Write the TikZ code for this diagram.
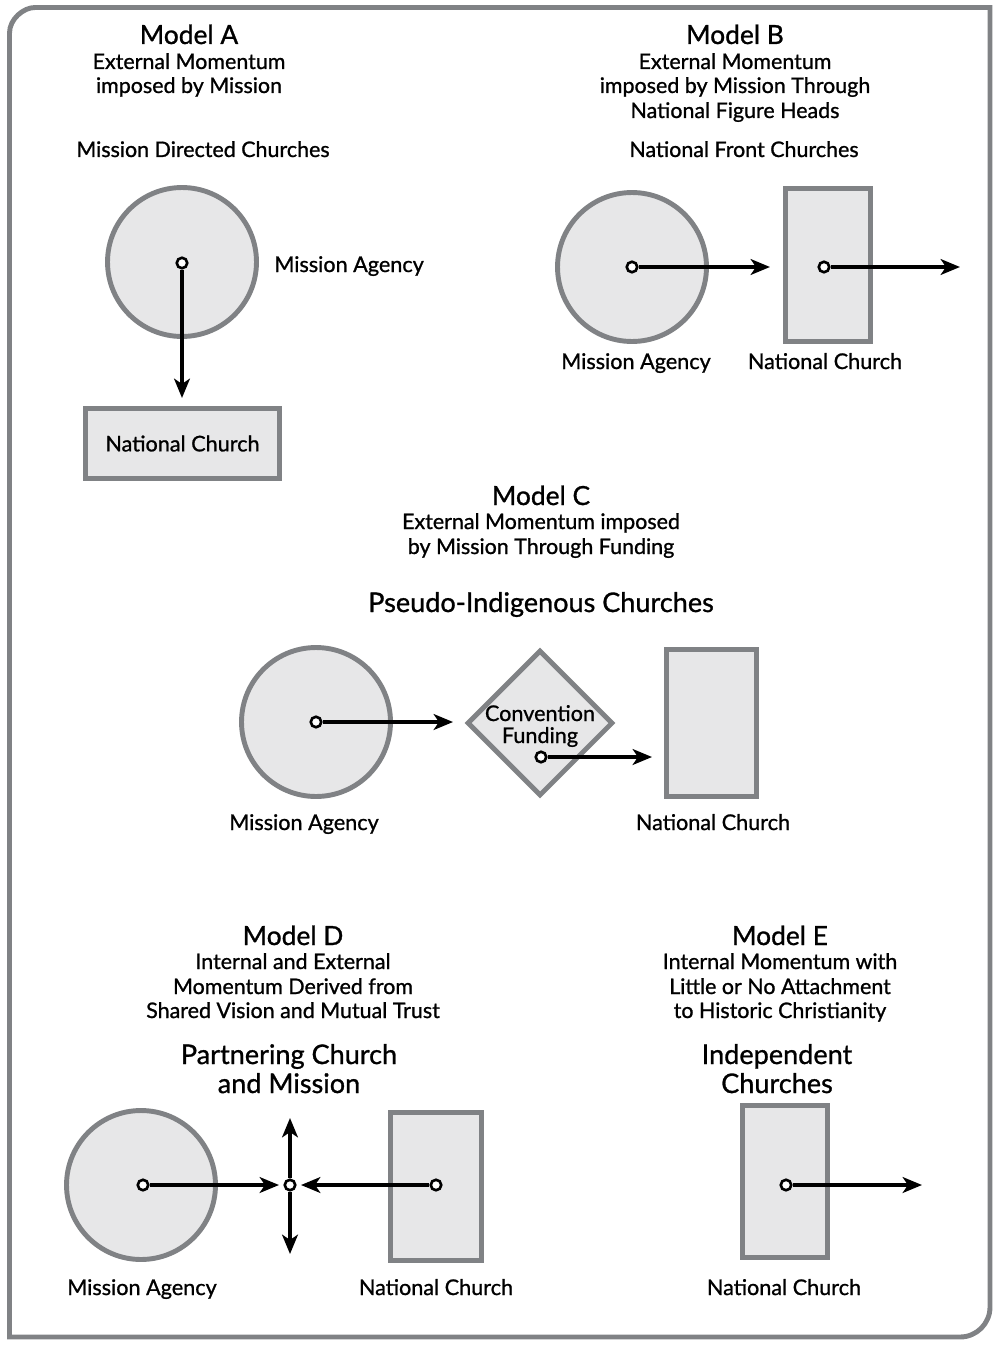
\documentclass[tikz,border=0pt]{standalone}
\usepackage{fontspec}
\setmainfont{Lato}[UprightFeatures={FakeBold=1}]
\usetikzlibrary{arrows.meta,shapes.geometric}

\definecolor{frame}{RGB}{128,130,133}
\definecolor{shade}{RGB}{231,231,232}

\tikzset{
  agency/.style={circle, draw=frame, fill=shade, line width=2.8pt, minimum size=2.98cm, inner sep=0pt},
  church/.style={rectangle, draw=frame, fill=shade, line width=2.8pt, inner sep=0pt},
  funds/.style={diamond, draw=frame, fill=shade, line width=2.8pt, minimum size=2.92cm, inner sep=0pt},
  hub/.style={circle, draw=black, fill=white, line width=1.5pt, minimum size=0.21cm, inner sep=0pt},
  flow/.style={-{Stealth[length=11pt,width=9pt,inset=3pt]}, line width=1.9pt},
  modelname/.style={anchor=base, inner sep=0pt, font=\fontsize{15}{17}\selectfont},
  subline/.style={anchor=base, inner sep=0pt, font=\fontsize{12.2}{14}\selectfont},
  heading/.style={anchor=base, inner sep=0pt, font=\fontsize{15.4}{18}\selectfont},
  tag/.style={anchor=base, inner sep=0pt, font=\fontsize{12.3}{14}\selectfont},
}

\begin{document}
\begin{tikzpicture}[x=0.02cm, y=-0.02cm]
  \useasboundingbox (0,0) rectangle (1000,1348);

  % outer frame
  \draw[frame, line width=2.8pt] (9.5,1337) -- (9.5,33)
    .. controls (9.5,19) and (23.5,7.5) .. (35,7.5) -- (990,7.5) -- (990,1307)
    .. controls (990,1323.6) and (976.6,1337) .. (960,1337) -- cycle;

  % Model A
  \node[modelname] (titleA) at (189,44) {Model A};
  \node[subline] (subA1) at (189,69) {External Momentum};
  \node[subline] (subA2) at (189,93) {imposed by Mission};
  \node[subline] (headA) at (203,157) {Mission Directed Churches};
  \node[agency] (agencyA) at (182,262) {};
  \node[church, minimum width=3.88cm, minimum height=1.4cm, font=\fontsize{12.3}{14}\selectfont] (churchA) at (182.5,443.5) {National Church};
  \node[hub] (hubA) at (182,263) {};
  \coordinate (endA) at (182,398);
  \draw[flow] (hubA) -- (endA);
  \node[tag, anchor=base west] (agencyAtag) at (274,272) {Mission Agency};

  % Model B
  \node[modelname] (titleB) at (735,44) {Model B};
  \node[subline] (subB1) at (735,69) {External Momentum};
  \node[subline] (subB2) at (735,93) {imposed by Mission Through};
  \node[subline] (subB3) at (735,118) {National Figure Heads};
  \node[subline] (headB) at (744,157) {National Front Churches};
  \node[agency] (agencyB) at (632,267) {};
  \node[church, minimum width=1.7cm, minimum height=3.06cm] (churchB) at (828,265) {};
  \node[hub] (hubB1) at (632,267) {};
  \node[hub] (hubB2) at (824,267) {};
  \coordinate (endB1) at (770,267);
  \coordinate (endB2) at (960,267);
  \draw[flow] (hubB1) -- (endB1);
  \draw[flow] (hubB2) -- (endB2);
  \node[tag] (agencyBtag) at (636,369) {Mission Agency};
  \node[tag] (churchBtag) at (825,369) {National Church};

  % Model C
  \node[modelname] (titleC) at (541,505) {Model C};
  \node[subline] (subC1) at (541,529) {External Momentum imposed};
  \node[subline] (subC2) at (541,554) {by Mission Through Funding};
  \node[heading] (headC) at (541,612) {Pseudo-Indigenous Churches};
  \node[agency] (agencyC) at (316,722) {};
  \node[funds] (fundsC) at (540,723) {};
  \node[church, minimum width=1.8cm, minimum height=2.94cm] (churchC) at (711.5,723) {};
  \node[tag] (fundsC1) at (540,721) {Convention};
  \node[tag] (fundsC2) at (540,743) {Funding};
  \node[hub] (hubC1) at (316,722) {};
  \node[hub] (hubC2) at (541,757) {};
  \coordinate (endC1) at (453,722);
  \coordinate (endC2) at (652,757);
  \draw[flow] (hubC1) -- (endC1);
  \draw[flow] (hubC2) -- (endC2);
  \node[tag] (agencyCtag) at (304,830) {Mission Agency};
  \node[tag] (churchCtag) at (713,830) {National Church};

  % Model D
  \node[modelname] (titleD) at (293,945) {Model D};
  \node[subline] (subD1) at (293,969) {Internal and External};
  \node[subline] (subD2) at (293,994) {Momentum Derived from};
  \node[subline] (subD3) at (293,1018) {Shared Vision and Mutual Trust};
  \node[heading] (headD1) at (289,1064) {Partnering Church};
  \node[heading] (headD2) at (289,1093) {and Mission};
  \node[agency] (agencyD) at (141,1185) {};
  \node[church, minimum width=1.82cm, minimum height=2.96cm] (churchD) at (436,1186.5) {};
  \node[hub] (hubD1) at (143,1185) {};
  \node[hub] (hubD2) at (436,1185) {};
  \node[hub] (meetD) at (290,1185) {};
  \coordinate (endD1) at (279,1185);
  \coordinate (endD2) at (301,1185);
  \coordinate (upD) at (290,1118);
  \coordinate (downD) at (290,1254);
  \draw[flow] (hubD1) -- (endD1);
  \draw[flow] (hubD2) -- (endD2);
  \draw[flow] (meetD) -- (upD);
  \draw[flow] (meetD) -- (downD);
  \node[tag] (agencyDtag) at (142,1295) {Mission Agency};
  \node[tag] (churchDtag) at (436,1295) {National Church};

  % Model E
  \node[modelname] (titleE) at (780,945) {Model E};
  \node[subline] (subE1) at (780,969) {Internal Momentum with};
  \node[subline] (subE2) at (780,994) {Little or No Attachment};
  \node[subline] (subE3) at (780,1018) {to Historic Christianity};
  \node[heading] (headE1) at (777,1064) {Independent};
  \node[heading] (headE2) at (777,1093) {Churches};
  \node[church, minimum width=1.7cm, minimum height=3.04cm] (churchE) at (785,1181.5) {};
  \node[hub] (hubE) at (786,1185) {};
  \coordinate (endE) at (922,1185);
  \draw[flow] (hubE) -- (endE);
  \node[tag] (churchEtag) at (784,1295) {National Church};
\end{tikzpicture}
\end{document}
